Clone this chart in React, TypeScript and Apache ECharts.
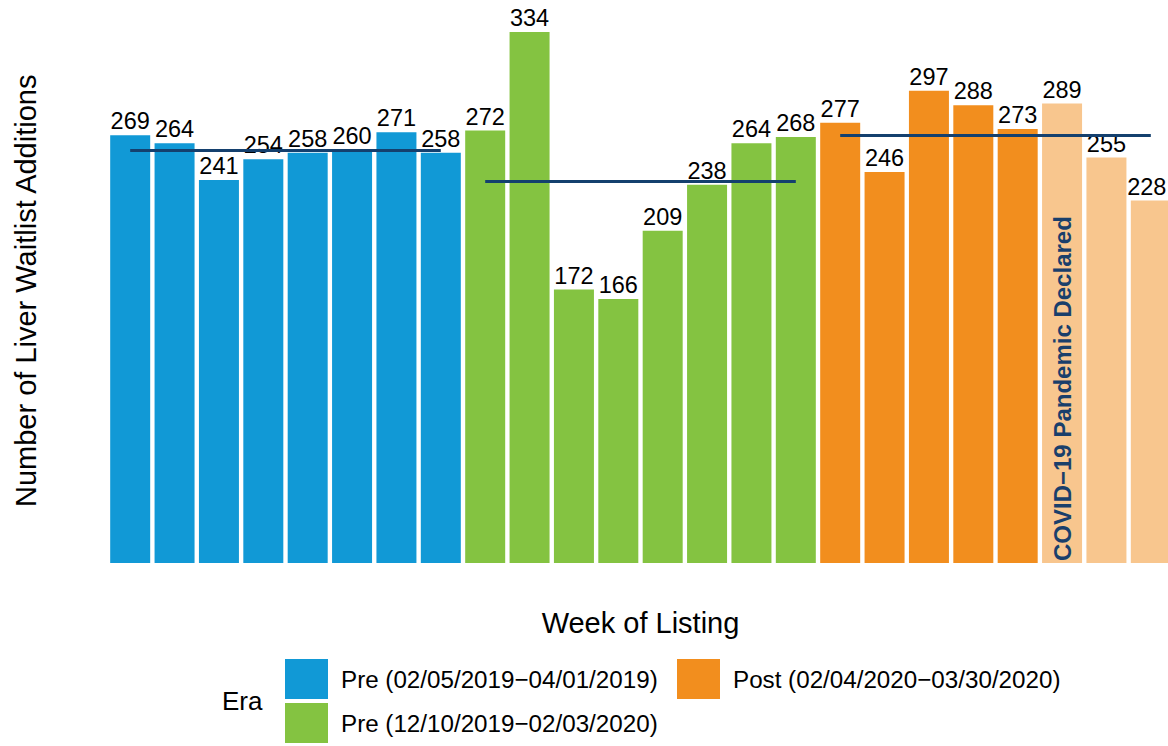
import React, { useEffect, useRef } from "react";
import * as echarts from "echarts";

const weeks = ["1","2","3","4","5","6","7","8","9","10","11","12","13","14","15","16","17","18","19","20","21","22","23","24"];
const preA = [269, 264, 241, 254, 258, 260, 271, 258];
const preB = [272, 334, 172, 166, 209, 238, 264, 268];
const post = [277, 246, 297, 288, 273];
const postCovid = [289, 255, 228];

const nameA = "Pre (02/05/2019\u221204/01/2019)";
const nameB = "Pre (12/10/2019\u221202/03/2020)";
const nameP = "Post (02/04/2020\u221203/30/2020)";
const nameC = "Post (COVID-19)";

const colA = "#1199D6";
const colB = "#84C341";
const colP = "#F28E1E";
const colC = "#F8C68E";
const navy = "#14406E";
const FONT = "Liberation Sans";

const mean = (a: number[]) => a.reduce((s, v) => s + v, 0) / a.length;

function place(vals: number[], start: number): any[] {
  const out: any[] = weeks.map(() => null);
  vals.forEach((v, i) => (out[start + i] = v));
  return out;
}

export default function App() {
  const ref = useRef<HTMLDivElement>(null);
  useEffect(() => {
    if (!ref.current) return;
    const chart = echarts.init(ref.current, null, { renderer: "svg" });
    const startB = preA.length;
    const startP = startB + preB.length;
    const startC = startP + post.length;
    const postAll = post.concat(postCovid);
    const label = {
      show: true,
      position: "top",
      distance: 2,
      color: "#000",
      fontSize: 23.5,
      fontFamily: FONT,
    };
    const ml = (from: number, to: number, m: number) => ({
      silent: true,
      symbol: "none",
      label: { show: false },
      lineStyle: { color: navy, width: 3, type: "solid" },
      data: [[{ coord: [from, m] }, { coord: [to, m] }]],
    });
    const base = {
      type: "bar",
      barGap: "-100%",
      barWidth: 40,
      label,
    };
    const covidData = place(postCovid, startC);
    const last = weeks.length - 1;
    covidData[last] = { value: covidData[last], label: { offset: [-4, 0] } };
    chart.setOption({
      animation: false,
      textStyle: { fontFamily: FONT },
      grid: { left: 108, width: 1065, top: 6.6, bottom: 183, containLabel: false },
      title: {
        text: "Era",
        left: 222,
        top: 688,
        padding: 0,
        textStyle: { fontSize: 26, fontWeight: "normal", color: "#000", fontFamily: FONT },
      },
      legend: [
        {
          orient: "vertical",
          left: 285,
          top: 659,
          padding: 0,
          itemWidth: 43,
          itemHeight: 40,
          itemGap: 4,
          icon: "rect",
          data: [nameA, nameB],
          textStyle: { fontSize: 24.2, color: "#000", fontFamily: FONT, padding: [0, 0, 0, 8] },
        },
        {
          orient: "vertical",
          left: 677,
          top: 659,
          padding: 0,
          itemWidth: 43,
          itemHeight: 40,
          itemGap: 4,
          icon: "rect",
          data: [nameP],
          textStyle: { fontSize: 24.2, color: "#000", fontFamily: FONT, padding: [0, 0, 0, 8] },
        },
      ],
      xAxis: {
        type: "category",
        data: weeks,
        axisLine: { show: false },
        axisTick: { show: false },
        axisLabel: { show: false },
        name: "Week of Listing",
        nameLocation: "middle",
        nameGap: 45,
        nameTextStyle: { fontSize: 29, color: "#000", fontFamily: FONT },
      },
      yAxis: {
        type: "value",
        min: 0,
        max: 350,
        splitLine: { show: false },
        axisLine: { show: false },
        axisTick: { show: false },
        axisLabel: { show: false },
        name: "Number of Liver Waitlist Additions",
        nameLocation: "middle",
        nameGap: 68,
        nameTextStyle: { fontSize: 29, color: "#000", fontFamily: FONT, padding: [0, 12, 0, 0] },
      },
      series: [
        {
          ...base,
          name: nameA,
          itemStyle: { color: colA },
          data: place(preA, 0),
          markLine: ml(0, startB - 1, mean(preA)),
        },
        {
          ...base,
          name: nameB,
          itemStyle: { color: colB },
          data: place(preB, startB),
          markLine: ml(startB, startP - 1, mean(preB)),
        },
        {
          ...base,
          name: nameP,
          itemStyle: { color: colP },
          data: place(post, startP),
        },
        {
          ...base,
          name: nameC,
          itemStyle: { color: colC },
          data: covidData,
          markLine: ml(startP, last, mean(postAll)),
        },
        {
          type: "bar",
          name: "annotation",
          barGap: "-100%",
          barWidth: 40,
          silent: true,
          itemStyle: { color: "rgba(0,0,0,0)" },
          data: place([postCovid[0]], startC),
          label: {
            show: true,
            formatter: "COVID\u221219 Pandemic Declared",
            position: "insideBottom",
            distance: 2,
            rotate: 90,
            align: "left",
            verticalAlign: "middle",
            color: "#1A3F6B",
            fontSize: 24,
            fontWeight: "bold",
            fontFamily: FONT,
          },
        },
      ],
    });
    return () => chart.dispose();
  }, []);
  return (
    <div
      ref={ref}
      style={{ position: "fixed", left: 0, top: 0, width: 1180, height: 746, background: "#fff" }}
    />
  );
}
